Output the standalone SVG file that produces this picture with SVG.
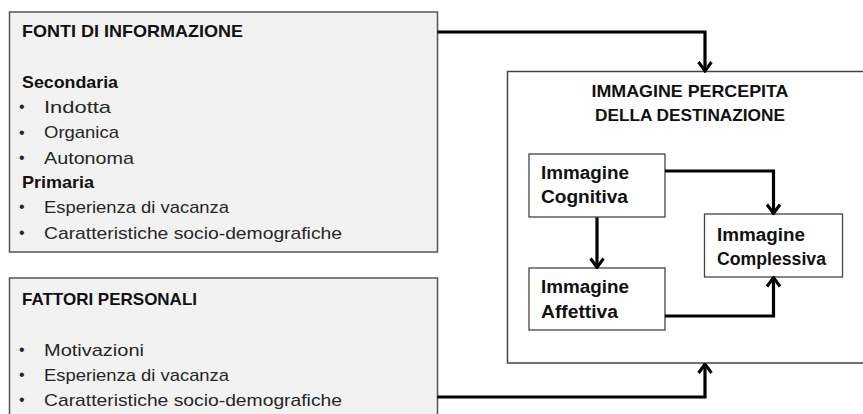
<svg xmlns="http://www.w3.org/2000/svg" width="863" height="414" viewBox="0 0 863 414">
  <style>
    .panel { fill: #f2f2f2; stroke: #555; stroke-width: 1.5; }
    .frame { fill: #ffffff; stroke: #444; stroke-width: 1.5; }
    .node { fill: #ffffff; stroke: #444; stroke-width: 1.3; }
    text { font-family: "Liberation Sans", Arial, sans-serif; font-size: 17px; fill: #262626; }
    .h { font-weight: bold; fill: #111; }
    .n { font-size: 18px; }
    .dot { font-size: 16px; }
    .link { fill: none; stroke: #000; stroke-width: 3.2; marker-end: url(#head); }
  </style>
  <defs>
    <marker id="head" viewBox="0 0 12 16" refX="10.5" refY="8" markerWidth="12" markerHeight="16" markerUnits="userSpaceOnUse" orient="auto">
      <path d="M1.5,1.5 L10.5,8 L1.5,14.5" fill="none" stroke="#000" stroke-width="3"/>
    </marker>
  </defs>

  <rect width="863" height="414" fill="#ffffff"/>

  <!-- information sources -->
  <g id="fonti">
    <rect class="panel" x="9.5" y="12" width="428" height="240"/>
    <text class="h" x="22" y="37" textLength="221" lengthAdjust="spacingAndGlyphs">FONTI DI INFORMAZIONE</text>
    <text class="h" x="22" y="88" textLength="96" lengthAdjust="spacingAndGlyphs">Secondaria</text>
    <text class="dot" x="19" y="112">•</text>
    <text x="44" y="113" textLength="67" lengthAdjust="spacingAndGlyphs">Indotta</text>
    <text class="dot" x="19" y="138">•</text>
    <text x="44" y="138" textLength="75" lengthAdjust="spacingAndGlyphs">Organica</text>
    <text class="dot" x="19" y="163">•</text>
    <text x="44" y="164" textLength="90" lengthAdjust="spacingAndGlyphs">Autonoma</text>
    <text class="h" x="22" y="188" textLength="72" lengthAdjust="spacingAndGlyphs">Primaria</text>
    <text class="dot" x="19" y="212">•</text>
    <text x="44" y="213" textLength="185" lengthAdjust="spacingAndGlyphs">Esperienza di vacanza</text>
    <text class="dot" x="19" y="238">•</text>
    <text x="44" y="239" textLength="298" lengthAdjust="spacingAndGlyphs">Caratteristiche socio-demografiche</text>
  </g>

  <!-- personal factors -->
  <g id="fattori">
    <rect class="panel" x="9.5" y="278" width="428" height="150"/>
    <text class="h" x="22" y="305" textLength="175" lengthAdjust="spacingAndGlyphs">FATTORI PERSONALI</text>
    <text class="dot" x="19" y="355">•</text>
    <text x="44" y="356" textLength="100" lengthAdjust="spacingAndGlyphs">Motivazioni</text>
    <text class="dot" x="19" y="380">•</text>
    <text x="44" y="381" textLength="185" lengthAdjust="spacingAndGlyphs">Esperienza di vacanza</text>
    <text class="dot" x="19" y="405">•</text>
    <text x="44" y="406" textLength="298" lengthAdjust="spacingAndGlyphs">Caratteristiche socio-demografiche</text>
  </g>

  <!-- perceived destination image -->
  <g id="immagine-percepita">
    <rect class="frame" x="507.5" y="71.5" width="370" height="291.5"/>
    <text class="h" x="690" y="97" text-anchor="middle" textLength="197" lengthAdjust="spacingAndGlyphs">IMMAGINE PERCEPITA</text>
    <text class="h" x="690" y="121" text-anchor="middle" textLength="190" lengthAdjust="spacingAndGlyphs">DELLA DESTINAZIONE</text>
  </g>

  <g id="cognitiva">
    <rect class="node" x="529" y="154" width="136" height="63"/>
    <text class="h n" x="541" y="179" textLength="88" lengthAdjust="spacingAndGlyphs">Immagine</text>
    <text class="h n" x="541" y="203" textLength="87" lengthAdjust="spacingAndGlyphs">Cognitiva</text>
  </g>

  <g id="affettiva">
    <rect class="node" x="529" y="268" width="136" height="62"/>
    <text class="h n" x="541" y="293" textLength="88" lengthAdjust="spacingAndGlyphs">Immagine</text>
    <text class="h n" x="541" y="318" textLength="77" lengthAdjust="spacingAndGlyphs">Affettiva</text>
  </g>

  <g id="complessiva">
    <rect class="node" x="704.5" y="214" width="138" height="63"/>
    <text class="h n" x="717" y="241" textLength="88" lengthAdjust="spacingAndGlyphs">Immagine</text>
    <text class="h n" x="717" y="265" textLength="109" lengthAdjust="spacingAndGlyphs">Complessiva</text>
  </g>

  <!-- connectors -->
  <g id="connectors">
    <path class="link" d="M437.5,32 H705 V71"/>
    <path class="link" d="M437.5,397 H705 V364"/>
    <path class="link" d="M597,217.5 V267.5"/>
    <path class="link" d="M665,171 H773.5 V213.5"/>
    <path class="link" d="M665,316 H773.5 V277.5"/>
  </g>
</svg>
